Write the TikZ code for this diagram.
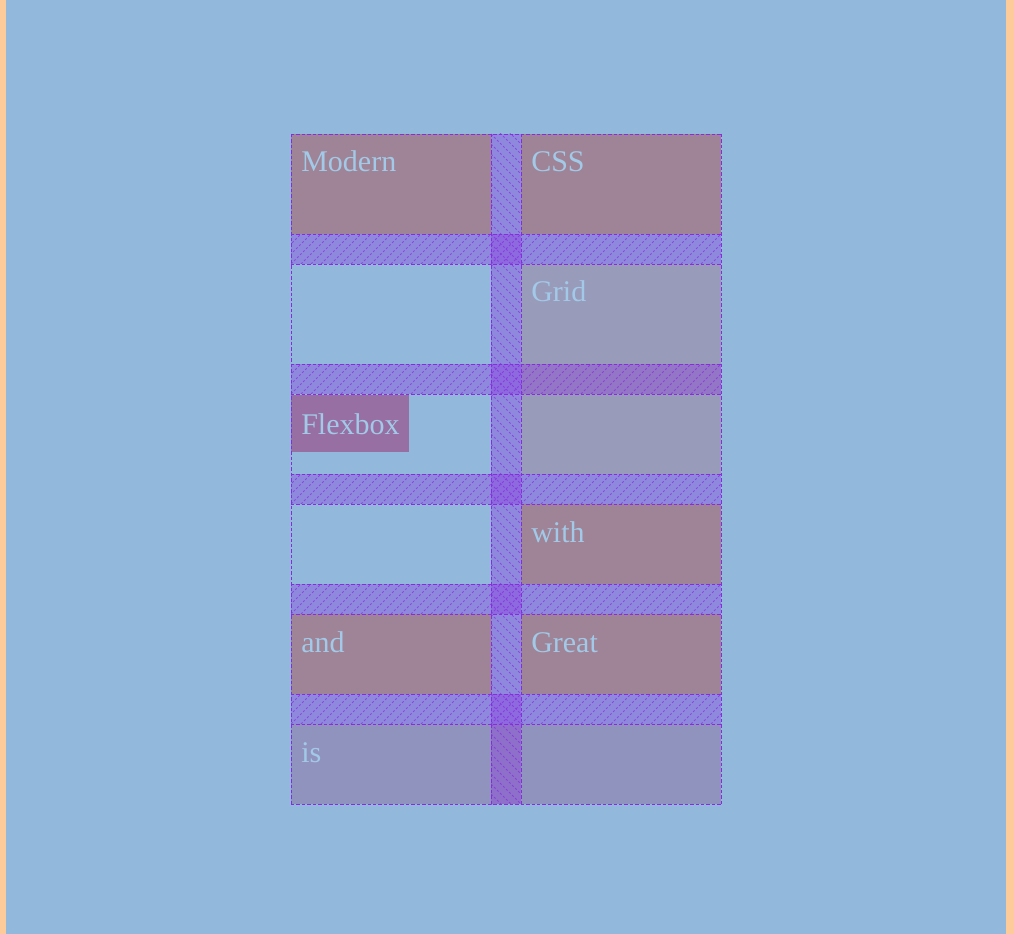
\documentclass[tikz,border=0pt]{standalone}
\usepackage{fontspec}
\setmainfont{Liberation Serif}
\definecolor{fond}{HTML}{92B8DB}
\definecolor{bord}{HTML}{FDCA9A}
\definecolor{mauve}{HTML}{9E8496}
\definecolor{gris}{HTML}{999BBB}
\definecolor{lavande}{HTML}{9193BF}
\definecolor{flex}{HTML}{976FA2}
\definecolor{texte}{HTML}{A2CAE8}
\definecolor{violet}{HTML}{8A2BE2}
\begin{document}
\begin{tikzpicture}[x=0.75pt,y=-0.75pt]
		\tikzstyle{cellule}=[anchor=north west, inner sep=0, outer sep=0, minimum width=150pt]
		\tikzstyle{mot}=[anchor=base west, inner sep=0, text=texte, font=\fontsize{22.5pt}{27pt}\selectfont]
		\tikzstyle{ecart}=[fill=violet, fill opacity=0.33]
		\tikzstyle{hachure}=[draw=violet, draw opacity=0.7, line width=0.6pt, dash pattern=on 1.6pt off 1.6pt]
		\tikzstyle{trait}=[draw=violet, line width=0.7pt, dash pattern=on 2.6pt off 1.5pt]
		\useasboundingbox (0,0) rectangle (1014,934);
		\fill[fond] (0,0) rectangle (1014,934);
		\fill[bord] (0,0) rectangle (6,934); % gauche
		\fill[bord] (1006,0) rectangle (1014,934); % droite
		% cellules
		\node[cellule, fill=mauve, minimum height=75pt] (cmodern) at (291,134) {};
		\node[cellule, fill=mauve, minimum height=75pt] (ccss) at (521,134) {};
		\node[cellule, fill=gris, minimum height=157.5pt] (cgrid) at (521,264) {};
		\node[cellule, fill=mauve, minimum height=60pt] (cwith) at (521,504) {};
		\node[cellule, fill=mauve, minimum height=60pt] (cand) at (291,614) {};
		\node[cellule, fill=mauve, minimum height=60pt] (cgreat) at (521,614) {};
		\node[cellule, fill=lavande, minimum height=60pt, minimum width=322.5pt] (cis) at (291,724) {};
		\node[cellule, fill=flex, minimum height=42.75pt, minimum width=88.5pt] (cflex) at (291,395) {};
		% ecarts horizontaux
		\foreach \y in {234,364,474,584,694} {
			\fill[ecart] (291,\y) rectangle (721,\y+30);
			\begin{scope}
				\clip (291,\y) rectangle (721,\y+30);
				\foreach \x in {261,271,...,721}
					\draw[hachure] (\x,\y+30) -- ++(30,-30);
			\end{scope}
		}
		% ecart vertical
		\fill[ecart] (491,134) rectangle (521,804);
		\begin{scope}
			\clip (491,134) rectangle (521,804);
			\foreach \y in {104,114,...,804}
				\draw[hachure] (491,\y) -- ++(30,30);
		\end{scope}
		% lignes de la grille
		\foreach \x in {291,491,521,721}
			\draw[trait] (\x,134) -- (\x,804);
		\foreach \y in {134,234,264,364,394,474,504,584,614,694,724,804}
			\draw[trait] (291,\y) -- (721,\y);
		% mots
		\node[mot] (modern) at (301,172) {Modern};
		\node[mot] (css) at (531,172) {CSS};
		\node[mot] (grid) at (531,302) {Grid};
		\node[mot] (flexbox) at (301,434) {Flexbox};
		\node[mot] (with) at (531,542) {with};
		\node[mot] (and) at (301,652) {and};
		\node[mot] (great) at (531,652) {Great};
		\node[mot] (is) at (301,762) {is};
	\end{tikzpicture}
\end{document}
